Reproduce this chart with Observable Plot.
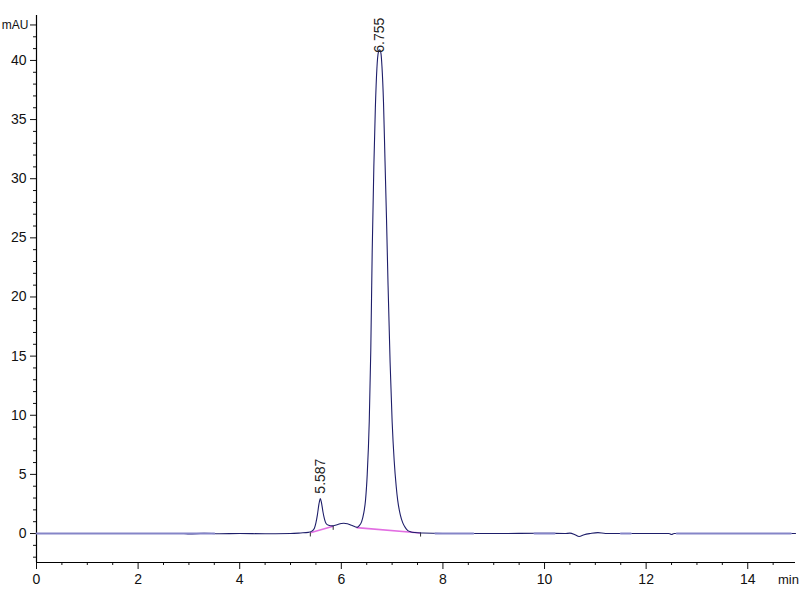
<!DOCTYPE html>
<html><head><meta charset="utf-8">
<script src="https://cdn.jsdelivr.net/npm/d3@7"></script>
<script src="https://cdn.jsdelivr.net/npm/@observablehq/plot@0.6"></script>
<style>body{margin:0;background:#fff} #chart svg{display:block}</style>
</head><body><div id="chart"></div>
<script>
// Chromatogram trace (time in min, signal in mAU)
const traceTime = [0, 1, 2, 2.9, 3.0, 3.3, 3.6, 4.0, 4.5, 5.0, 5.2, 5.35, 5.42, 5.47, 5.50, 5.53, 5.56, 5.587, 5.61, 5.64, 5.67, 5.70, 5.75, 5.82, 5.9, 6.0, 6.05, 6.12, 6.2, 6.28, 6.31, 6.35, 6.40, 6.44, 6.476, 6.51, 6.55, 6.58, 6.608, 6.64, 6.67, 6.70, 6.73, 6.755, 6.78, 6.80, 6.83, 6.86, 6.89, 6.92, 6.96, 7.00, 7.04, 7.08, 7.11, 7.16, 7.21, 7.26, 7.31, 7.36, 7.45, 7.6, 8.0, 9.0, 10.0, 10.4, 10.5, 10.6, 10.68, 10.78, 10.9, 11.05, 11.2, 12.0, 12.45, 12.5, 12.55, 13.0, 14.0, 14.94];
const traceMAU  = [0, 0, 0, 0, -0.03, 0.02, -0.02, 0, -0.02, 0, 0.05, 0.1, 0.2, 0.45, 0.9, 1.6, 2.5, 2.95, 2.6, 1.8, 1.2, 0.85, 0.7, 0.65, 0.72, 0.85, 0.87, 0.82, 0.7, 0.56, 0.52, 0.65, 1.0, 1.7, 2.8, 5.0, 9.5, 15.5, 23.9, 31.0, 36.0, 39.3, 40.7, 40.9, 40.6, 39.5, 36.5, 31.5, 26.5, 21.0, 14.5, 9.5, 6.2, 4.0, 2.8, 1.6, 0.9, 0.5, 0.25, 0.15, 0.08, 0.04, 0, 0, 0.02, 0, 0.03, -0.1, -0.25, -0.1, 0, 0.08, 0, 0, 0, -0.08, 0, 0, 0, 0];

// Detector baseline segments drawn over the trace (start, end in min)
const baselineStart = [0, 7.85, 9.8, 11.5, 12.6];
const baselineEnd   = [3.5, 8.6, 10.2, 11.7, 14.85];

// Integration baselines (magenta): start/end time and level
const integT1 = [5.39, 6.30];
const integV1 = [0.06, 0.50];
const integT2 = [5.84, 7.56];
const integV2 = [0.62, 0.05];
const integMarkT = [5.39, 5.84, 7.56];
const integMarkV = [0.06, 0.62, 0.05];

// Peak labels
const peakTime = [5.587, 6.755];
const peakHeight = [2.95, 40.9];
const peakLabel = ["5.587", "6.755"];

// Axes
const xDomain = [0, 14.94];
const yDomain = [-2.45, 43.8];
const xMajorTicks = [0, 2, 4, 6, 8, 10, 12, 14];
const xMinorTicks = d3.range(0.5, 14.9, 0.5).filter(v => v % 2 !== 0);
const yMajorTicks = [0, 5, 10, 15, 20, 25, 30, 35, 40];
const yMinorTicks = d3.range(-2, 43, 1).filter(v => v % 5 !== 0);
const yUnitTick = [43];
const xUnitTick = [14.8];

const trace = traceTime.map((t, i) => ({t, v: traceMAU[i]}));
const baseRows = [];
baselineStart.forEach((s, i) => {
  baseRows.push({t: s, v: 0, seg: i});
  baseRows.push({t: baselineEnd[i], v: 0, seg: i});
});
const integ = integT1.map((t, i) => ({t1: t, v1: integV1[i], t2: integT2[i], v2: integV2[i]}));
const marks = integMarkT.map((t, i) => ({t, v: integMarkV[i]}));
const peaks = peakTime.map((t, i) => ({t, v: peakHeight[i], label: peakLabel[i]}));

const axisFont = "'Liberation Sans', Arial, sans-serif";

const chart = Plot.plot({
  width: 800,
  height: 600,
  marginLeft: 36,
  marginRight: 5,
  marginTop: 15,
  marginBottom: 38,
  style: {fontFamily: axisFont, fontSize: "14px", color: "#111", background: "#fff"},
  x: {domain: xDomain, axis: null},
  y: {domain: yDomain, axis: null},
  marks: [
    Plot.axisY(yMajorTicks, {anchor: "left", tickSize: 6, tickPadding: 4, fontSize: 14, label: null}),
    Plot.axisY(yMinorTicks, {anchor: "left", tickSize: 3, text: null, label: null}),
    Plot.axisY(yUnitTick, {anchor: "left", tickSize: 6, tickPadding: 2, fontSize: 12, tickFormat: () => "mAU", label: null}),
    Plot.axisX(xMajorTicks, {anchor: "bottom", tickSize: 7, tickPadding: 5, fontSize: 14, label: null}),
    Plot.axisX(xMinorTicks, {anchor: "bottom", tickSize: 3, text: null, label: null}),
    Plot.axisX(xUnitTick, {anchor: "bottom", tickSize: 0, tickPadding: 12, fontSize: 13, tickFormat: () => "min", label: null}),
    Plot.ruleX([xDomain[0]], {stroke: "#000", strokeWidth: 1.2}),
    Plot.ruleY([yDomain[0]], {stroke: "#000", strokeWidth: 1.2}),
    Plot.link(integ, {x1: "t1", y1: "v1", x2: "t2", y2: "v2", stroke: "#dd55dd", strokeWidth: 1.6, strokeOpacity: 0.85}),
    Plot.ruleX(marks, {x: "t", y1: "v", y2: d => d.v - 0.35, stroke: "#333", strokeWidth: 1}),
    Plot.line(trace, {x: "t", y: "v", stroke: "#1e1e6a", strokeWidth: 1.1, curve: "monotone-x"}),
    Plot.line(baseRows, {x: "t", y: "v", z: "seg", stroke: "#8585c8", strokeWidth: 1.8}),
    Plot.text(peaks.filter(d => d.label === "5.587"), {x: "t", y: "v", text: "label", rotate: -90, textAnchor: "start", dy: -5, fontSize: 14, fill: "#222"}),
    Plot.text(peaks.filter(d => d.label === "6.755"), {x: "t", y: "v", text: "label", rotate: -90, textAnchor: "start", dy: 3, fontSize: 14, fill: "#222"})
  ]
});
document.getElementById("chart").append(chart);
</script>
</body></html>
